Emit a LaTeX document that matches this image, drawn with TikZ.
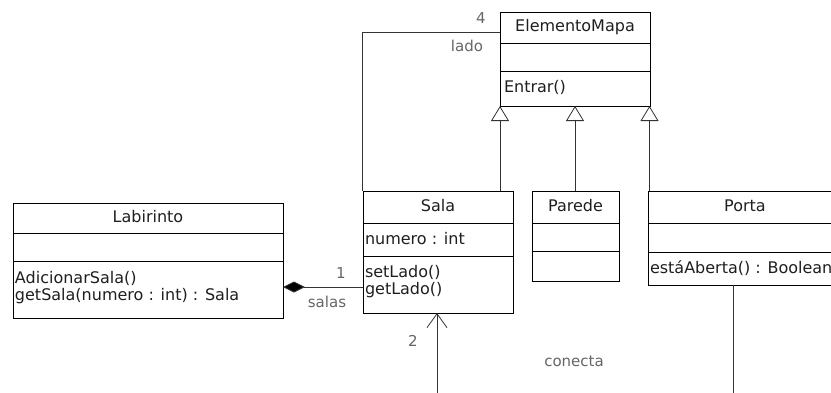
\documentclass[tikz,border=0pt]{standalone}
\usepackage{fontspec}
\setmainfont{DejaVu Sans}
\usetikzlibrary{arrows.meta,shadows}
\definecolor{linec}{HTML}{333333}
\definecolor{labelc}{HTML}{666666}
\begin{document}
\begin{tikzpicture}[x=1pt,y=-1pt,
  box/.style={draw=black, line width=0.9pt, fill=white, inner sep=0pt, outer sep=0pt, anchor=north west,
    drop shadow={shadow xshift=1.3pt, shadow yshift=-1.3pt, opacity=0.55, fill=black}},
  txt/.style={inner sep=0pt, outer sep=0pt, text=black!88, font=\fontsize{16}{19}\selectfont},
  lbl/.style={inner sep=0pt, text=labelc, font=\fontsize{15}{18}\selectfont},
  sep/.style={line width=0.9pt, black},
  conn/.style={line width=0.8pt, draw=linec},
  gen/.style={conn, -{Triangle[open, fill=white, length=15pt, width=18pt, line width=0.8pt]}},
  nav/.style={conn, -{Straight Barb[length=14pt, width=20pt, line width=0.8pt]}},
  comp/.style={conn, -{Diamond[fill=black, length=22pt, width=11pt]}}
]
\useasboundingbox (0,0) rectangle (831,392);
\clip (0,0) rectangle (831,392);
\fill[white] (0,0) rectangle (831,392);

% ElementoMapa
\node[box, minimum width=150pt, minimum height=94pt] (em) at (500,12) {};
\draw[sep] (500,43) -- (650,43);
\draw[sep] (500,71) -- (650,71);
\node[txt] (emt) at (575,27) {ElementoMapa};
\node[txt, anchor=base west] (emm) at (504,92) {Entrar()};

% Labirinto
\node[box, minimum width=270pt, minimum height=115pt] (lab) at (13,203) {};
\draw[sep] (13,233) -- (283,233);
\draw[sep] (13,261) -- (283,261);
\node[txt] (labt) at (148,217) {Labirinto};
\node[txt, anchor=base west] (labm1) at (15,283) {AdicionarSala()};
\node[txt, anchor=base west] (labm2) at (15,300) {getSala(numero : int) : Sala};

% Sala
\node[box, minimum width=150pt, minimum height=122pt] (sala) at (363,191) {};
\draw[sep] (363,223) -- (513,223);
\draw[sep] (363,256) -- (513,256);
\node[txt] (salat) at (438,206) {Sala};
\node[txt, anchor=base west] (salaa) at (365,244) {numero : int};
\node[txt, anchor=base west] (salam1) at (365,277) {setLado()};
\node[txt, anchor=base west] (salam2) at (365,294) {getLado()};

% Parede
\node[box, minimum width=87pt, minimum height=90pt] (parede) at (532,191) {};
\draw[sep] (532,223) -- (619,223);
\draw[sep] (532,251) -- (619,251);
\node[txt] (paredet) at (575.5,206) {Parede};

% Porta
\node[box, minimum width=194pt, minimum height=94pt] (porta) at (648,191) {};
\draw[sep] (648,223) -- (842,223);
\draw[sep] (648,252) -- (842,252);
\node[txt] (portat) at (745,206) {Porta};
\node[txt, anchor=base west] (portam) at (650,273) {estáAberta() : Boolean};

% generalizations
\draw[gen] (em.south west |- sala.north) -- (em.south west);
\draw[gen] (em.south |- parede.north) -- (em.south |- em.south);
\draw[gen] ([xshift=-0.5pt]em.south east |- porta.north) -- ([xshift=-0.5pt]em.south east);

% lado association
\draw[conn] ([yshift=-20pt]em.north west) -| ([xshift=-1pt]sala.north west);
\node[lbl] (l4) at (481,18) {4};
\node[lbl] (llado) at (467,46) {lado};

% composition
\draw[comp] ([yshift=-96pt]sala.north west) -- ([yshift=-96pt]sala.north west -| lab.east);
\node[lbl] (l1) at (341,273) {1};
\node[lbl] (lsalas) at (327,302) {salas};

% conecta
\coordinate (c1) at (437,400);
\coordinate (c2) at (733,400);
\draw[nav] (c1) -- (c1 |- sala.south);
\draw[conn] (c2 |- porta.south) -- (c2);
\node[lbl] (l2) at (413,341) {2};
\node[lbl] (lcon) at (574,361) {conecta};
\end{tikzpicture}
\end{document}
